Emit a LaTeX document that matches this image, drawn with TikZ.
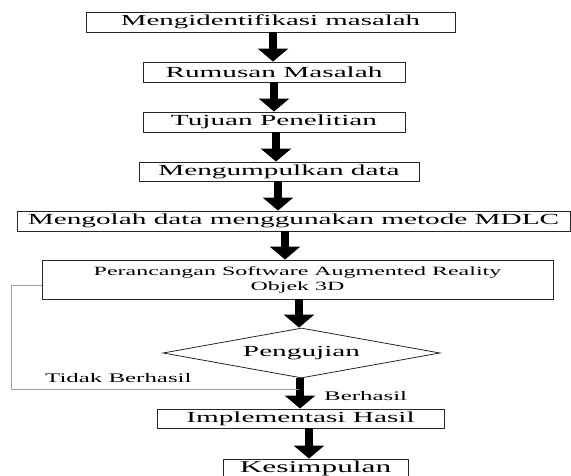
\documentclass[tikz,border=0pt]{standalone}
\usepackage{fontspec}
\setmainfont{Liberation Serif}[FakeStretch=1.9]
\usepackage{tikz}
\usetikzlibrary{
  arrows.meta,
  positioning,
  shapes.geometric,
}
\definecolor{boxLine}{HTML}{262626}
\definecolor{loopLine}{HTML}{A0A0A0}
\tikzset{
  stepbox/.style={
    rectangle, draw=boxLine, line width=0.9pt, inner sep=0pt,
    align=center, font=\fontsize{15.4}{18}\selectfont,
  },
  decision/.style={
    diamond, aspect=5.5, draw=boxLine, line width=0.8pt, inner sep=0pt,
    minimum width=277pt, minimum height=50pt, font=\fontsize{15.4}{18}\selectfont,
  },
  bigarrow/.style={
    -{Triangle[length=13pt,width=30pt]}, line width=8pt, draw=black,
  },
  feedback/.style={draw=loopLine, line width=0.9pt},
  lbl/.style={font=\fontsize{13.1}{15}\selectfont, inner sep=0pt, anchor=base west},
}

\begin{document}
\begin{tikzpicture}[x=1pt, y=-1pt]

\useasboundingbox (0,0) rectangle (571,476);

% Steps
\node[stepbox, minimum width=369pt, minimum height=20pt, font=\fontsize{15.2}{18}\selectfont] (identifikasi) at (270.5,22) {Mengidentifikasi masalah};
\node[stepbox, minimum width=262pt, minimum height=20pt] (rumusan) at (274,72) {Rumusan Masalah};
\node[stepbox, minimum width=262pt, minimum height=20pt] (tujuan) at (274,122) {Tujuan Penelitian};
\node[stepbox, minimum width=280pt, minimum height=19pt] (kumpul) at (279,171.5) {Mengumpulkan data};
\node[stepbox, minimum width=553pt, minimum height=20pt] (olah) at (293.5,221) {Mengolah data menggunakan metode MDLC};
\node[stepbox, minimum width=511pt, minimum height=39pt, font=\fontsize{12.6}{15}\selectfont] (rancang) at (297.5,279.5) {Perancangan Software Augmented Reality\\Objek 3D};
\node[decision] (uji) at (301.5,353) {Pengujian};
\node[stepbox, minimum width=287pt, minimum height=19pt] (implementasi) at (300.5,418.5) {Implementasi Hasil};
\node[stepbox, minimum width=185pt, minimum height=20pt, font=\fontsize{16.5}{19}\selectfont] (kesimpulan) at (315.5,469) {Kesimpulan};

% Thick arrows
\foreach \a/\b/\x in {identifikasi/rumusan/273, rumusan/tujuan/274, tujuan/kumpul/276,
    kumpul/olah/278, olah/rancang/285, rancang/uji/299, uji/implementasi/300,
    implementasi/kesimpulan/309} {
  \coordinate (ax) at (\x,0);
  \draw[bigarrow] (\a.south -| ax) -- (\b.north -| ax);
}

% Loop back when the test fails
\coordinate (loopEnd) at (299,389);
\draw[feedback] ([yshift=-5.5pt]rancang.west) -- ++(-30,0) |- (loopEnd);

% Labels
\node[lbl] (gagal) at (45,382) {Tidak Berhasil};
\node[lbl] (berhasil) at (324,400) {Berhasil};

\end{tikzpicture}
\end{document}
